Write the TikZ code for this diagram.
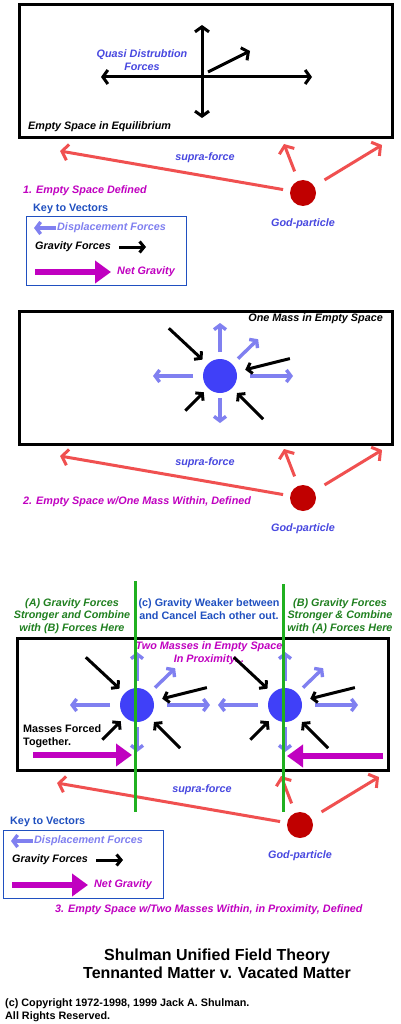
\documentclass[tikz,border=0pt]{standalone}
\usepackage{fontspec}
\setmainfont{Liberation Sans}
\usetikzlibrary{arrows.meta}

\definecolor{labblue}{RGB}{72,72,224}
\definecolor{keyblue}{RGB}{32,80,192}
\definecolor{massblue}{RGB}{64,64,248}
\definecolor{dispblue}{RGB}{128,128,240}
\definecolor{supred}{RGB}{240,80,80}
\definecolor{godred}{RGB}{192,0,0}
\definecolor{netmag}{RGB}{192,0,192}
\definecolor{textgreen}{RGB}{32,128,32}
\definecolor{linegreen}{RGB}{32,176,32}

\newcommand{\massforces}{%
    \foreach \a/\r/\s in {270/24/53, -44/25/53, 0/30/73, 180/27/67, 90/22/47}
        \draw [disp] (\a:\r) -- (\a:\s);
    \foreach \a/\r/\s in {223/70/24, -14/72/26, 135/49/23, 45/61/24}
        \draw [grav] (\a:\r) -- (\a:\s);
}

\begin{document}
\begin{tikzpicture}[x=1pt, y=-1pt,
    lbl/.style={font=\bfseries\itshape\fontsize{10.8}{12.5}\selectfont, inner sep=0pt},
    upr/.style={font=\bfseries\fontsize{10.8}{12.5}\selectfont, inner sep=0pt},
    panel/.style={draw=black, line width=3pt},
    vec/.style={draw=black, line width=3pt},
    dbl/.style={vec, {Straight Barb[length=5pt,width=14pt]}-{Straight Barb[length=5pt,width=14pt]}},
    grav/.style={draw=black, line width=3pt, -{Straight Barb[length=4.5pt,width=11pt]}},
    disp/.style={draw=dispblue, line width=3.4pt, -{Straight Barb[length=4.5pt,width=12pt]}},
    supra/.style={draw=supred, line width=3pt, -{Straight Barb[length=6pt,width=16pt]}},
    netg/.style={draw=netmag, line width=6pt, -{Triangle[length=16pt,width=22pt]}},
    mass/.style={circle, fill=massblue, minimum size=34pt, inner sep=0pt},
    godp/.style={circle, fill=godred, minimum size=26pt, inner sep=0pt},
    cutline/.style={draw=linegreen, line width=3pt}]

    \useasboundingbox [fill=white] (0,0) rectangle (400,1024);

    \draw [panel] (19,5) rectangle (392,138);
    \draw [dbl] (202,118) -- (202,25);
    \draw [dbl] (101,77) -- (312,77);
    \draw [vec, -{Straight Barb[length=5pt,width=14pt]}] (208,72) -- (250,51);
    \node [lbl, text=labblue, align=center] (q1) at (142,60) {Quasi Distrubtion\\Forces};
    \node [lbl, anchor=west] (e1) at (28,127) {Empty Space in Equilibrium};
    \node [lbl, text=netmag, anchor=west] (d1) at (23,191) {1. Empty Space Defined};

    \draw [panel] (19,311) rectangle (392,444);
    \node [lbl, anchor=east] (o2) at (383,319) {One Mass in Empty Space};
    \begin{scope}[shift={(220,376)}]
        \massforces
    \end{scope}
    \node [mass] (m1) at (220,376) {};
    \node [lbl, text=netmag, anchor=west] (d2) at (23,502) {2. Empty Space w/One Mass Within, Defined};

    \foreach \gx/\gy/\n in {303/193/1, 303/498/2, 300/825/3} {
        \begin{scope}[shift={(\gx,\gy)}]
            \node [godp] (g\n) at (0,0) {};
            \coordinate (l\n) at (-243,-42);
            \coordinate (u\n) at (-19,-49);
            \coordinate (r\n) at (79,-48);
            \draw [supra, shorten <=7pt] (g\n) -- (l\n);
            \draw [supra, shorten <=10pt] (g\n) -- (u\n);
            \draw [supra, shorten <=12pt] (g\n) -- (r\n);
            \node [lbl, text=labblue] (f\n) at (-98,-35) {supra-force};
            \node [lbl, text=labblue] (p\n) at (0,31) {God-particle};
        \end{scope}
    }

    \foreach \kx/\ky/\n in {26/217/1, 3/830/2} {
        \begin{scope}[shift={(\kx,\ky)}]
            \node [upr, text=keyblue, anchor=west] (k\n) at (7,-8) {Key to Vectors};
            \draw [keyblue, line width=1pt] (0,0) rectangle (160,68);
            \draw [disp] (30,11) -- (8,11);
            \node [lbl, text=dispblue, anchor=west] (kd\n) at (31,11) {Displacement Forces};
            \node [lbl, anchor=west] (kg\n) at (9,30) {Gravity Forces};
            \draw [grav] (93,30) -- (120,30);
            \draw [netg] (9,55) -- (85,55);
            \node [lbl, text=netmag, anchor=west] (kn\n) at (91,55) {Net Gravity};
        \end{scope}
    }

    \draw [panel] (17,638) rectangle (388,770);
    \node [lbl, text=textgreen, align=center] (ga) at (72,616) {(A) Gravity Forces\\Stronger and Combine\\with (B) Forces Here};
    \node [upr, text=keyblue, align=center] (gc) at (209,609) {(c) Gravity Weaker between\\and Cancel Each other out.};
    \node [lbl, text=textgreen, align=center] (gb) at (340,616) {(B) Gravity Forces\\Stronger \& Combine\\with (A) Forces Here};
    \node [lbl, text=netmag, align=center] (tm) at (209,653) {Two Masses in Empty Space\\In Proximity...};
    \foreach \mx/\n in {137/2, 285/3} {
        \begin{scope}[shift={(\mx,705)}]
            \massforces
        \end{scope}
        \node [mass] (m\n) at (\mx,705) {};
    }
    \node [upr, anchor=west, align=left] (mf) at (23,736) {Masses Forced\\Together.};
    \draw [netg] (33,755) -- (132,755);
    \draw [netg] (383,756) -- (287,756);
    \draw [cutline] (135,581) -- (135,812);
    \draw [cutline] (283,584) -- (283,812);
    \node [lbl, text=netmag, anchor=west] (d3) at (55,910) {3. Empty Space w/Two Masses Within, in Proximity, Defined};

    \node [font=\bfseries\fontsize{16}{18}\selectfont, inner sep=0pt, align=center] (tt) at (217,964) {Shulman Unified Field Theory\\Tennanted Matter v. Vacated Matter};
    \node [upr, anchor=west, align=left] (cr) at (5,1010) {(c) Copyright 1972-1998, 1999 Jack A. Shulman.\\All Rights Reserved.};
\end{tikzpicture}
\end{document}
